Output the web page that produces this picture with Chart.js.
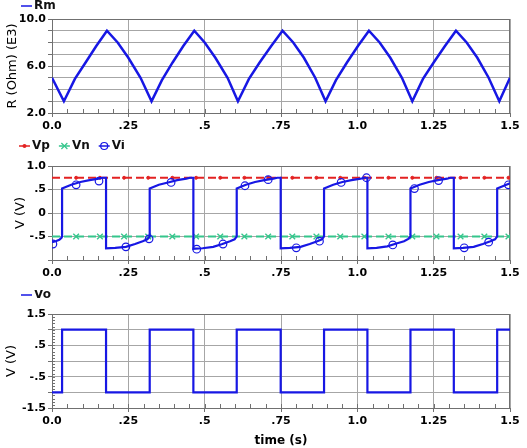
<!DOCTYPE html>
<html>
<head>
<meta charset="utf-8">
<script src="https://cdn.jsdelivr.net/npm/chart.js@4.4.1/dist/chart.umd.min.js"></script>
<style>
  html, body { margin: 0; padding: 0; background: #fff; }
  #wrap { position: relative; width: 527px; height: 448px; }
  canvas { position: absolute; left: 0; }
</style>
</head>
<body>
<div id="wrap">
  <canvas id="c1" width="527" height="140" style="top:0px"></canvas>
  <canvas id="c2" width="527" height="150" style="top:140px"></canvas>
  <canvas id="c3" width="527" height="158" style="top:290px"></canvas>
</div>
<script>
// ---- data (time in s) ----
const rmTime = [0, 0.039, 0.075, 0.11, 0.145, 0.18, 0.215, 0.25, 0.29, 0.326,
  0.36, 0.395, 0.43, 0.466, 0.5, 0.535, 0.575, 0.609,
  0.645, 0.68, 0.718, 0.755, 0.79, 0.825, 0.862, 0.896,
  0.93, 0.966, 1.002, 1.038, 1.073, 1.108, 1.146, 1.18,
  1.215, 1.25, 1.287, 1.323, 1.358, 1.393, 1.43, 1.465, 1.5];
const rmValue = [5.0, 3.0, 4.9, 6.3, 7.7, 9.0, 8.0, 6.7, 5.0, 3.0,
  4.8, 6.3, 7.7, 9.0, 8.0, 6.7, 5.0, 3.0,
  4.9, 6.3, 7.7, 9.0, 8.0, 6.7, 5.0, 3.0,
  4.8, 6.3, 7.7, 9.0, 8.0, 6.7, 5.0, 3.0,
  4.9, 6.3, 7.7, 9.0, 8.0, 6.7, 5.0, 3.0, 5.0];

const viTime = [0, 0.012, 0.024, 0.031, 0.033, 0.033,
  0.043, 0.063, 0.093, 0.123, 0.153, 0.165, 0.177, 0.177,
  0.207, 0.242, 0.272, 0.297, 0.312, 0.320, 0.320,
  0.330, 0.350, 0.380, 0.410, 0.440, 0.452, 0.463, 0.463,
  0.493, 0.528, 0.558, 0.583, 0.598, 0.605, 0.605,
  0.615, 0.635, 0.665, 0.695, 0.725, 0.738, 0.749, 0.749,
  0.779, 0.814, 0.844, 0.869, 0.884, 0.891, 0.891,
  0.901, 0.921, 0.951, 0.981, 1.011, 1.022, 1.033, 1.033,
  1.063, 1.098, 1.128, 1.153, 1.167, 1.174, 1.174,
  1.184, 1.204, 1.234, 1.264, 1.294, 1.305, 1.316, 1.316,
  1.346, 1.381, 1.411, 1.436, 1.451, 1.458, 1.458,
  1.468, 1.488, 1.5];
const viValue = [-0.62, -0.60, -0.57, -0.53, -0.50, 0.52,
  0.55, 0.60, 0.66, 0.70, 0.73, 0.75, 0.75, -0.75,
  -0.74, -0.72, -0.66, -0.60, -0.56, -0.50, 0.52,
  0.55, 0.60, 0.65, 0.70, 0.73, 0.75, 0.75, -0.76,
  -0.75, -0.72, -0.66, -0.60, -0.56, -0.50, 0.52,
  0.55, 0.60, 0.66, 0.70, 0.73, 0.75, 0.75, -0.75,
  -0.74, -0.72, -0.66, -0.60, -0.56, -0.50, 0.52,
  0.55, 0.60, 0.66, 0.70, 0.73, 0.75, 0.75, -0.75,
  -0.74, -0.71, -0.65, -0.60, -0.55, -0.50, 0.52,
  0.55, 0.60, 0.66, 0.70, 0.73, 0.75, 0.75, -0.75,
  -0.74, -0.72, -0.66, -0.60, -0.56, -0.50, 0.52,
  0.55, 0.60, 0.63];

const viMarkTime = [0.003, 0.079, 0.154, 0.242, 0.318, 0.39, 0.474, 0.56, 0.632, 0.708,
  0.80, 0.876, 0.947, 1.03, 1.116, 1.187, 1.266, 1.35, 1.43, 1.495];
const viMarkValue = [-0.66, 0.60, 0.68, -0.72, -0.55, 0.65, -0.77, -0.66, 0.58, 0.71,
  -0.74, -0.60, 0.65, 0.75, -0.68, 0.52, 0.69, -0.74, -0.62, 0.60];

const vpValue = 0.75;
const vnValue = -0.5;
const vMarkTime = [0.079, 0.157, 0.236, 0.315, 0.394, 0.472, 0.551, 0.630, 0.708, 0.787,
  0.866, 0.944, 1.023, 1.102, 1.180, 1.259, 1.338, 1.416, 1.495];

// Vo steps: time of each switch and the level after it
const voTime = [0, 0.033, 0.177, 0.320, 0.463, 0.605, 0.749, 0.891, 1.033, 1.174, 1.316, 1.458, 1.5];
const voValue = [-1, 1, -1, 1, -1, 1, -1, 1, -1, 1, -1, 1, 1];

const timeTicks = { min: 0, max: 1.5, step: 0.25 };

// ---- styles ----
const BLUE = '#1717e4';
const RED = '#e32222';
const GREEN = '#35c68c';
const GRID = '#a6a6a6';
const AXIS = '#707070';
const FONT = 'DejaVu Sans';
const tickFont = { family: FONT, size: 11, weight: 'bold' };

const pts = (xs, ys) => xs.map((x, i) => ({ x, y: ys[i] }));
const flat = (xs, v) => xs.map(x => ({ x, y: v }));

function fmtTime(v) {
  if (v === 0) return '0.0';
  if (v === 1) return '1.0';
  return v < 1 ? String(v).replace(/^0/, '') : String(v);
}
function fmtV(v) {
  if (Number.isInteger(v)) return v === 0 ? '0' : v.toFixed(1);
  return String(v).replace('0.', '.');
}

// frame (top/right border) + minor ticks
const framePlugin = {
  id: 'frame',
  beforeDatasetsDraw(chart, args, opts) {
    const { ctx, chartArea: a, scales: { x, y } } = chart;
    ctx.save();
    ctx.strokeStyle = AXIS;
    ctx.lineWidth = 1;
    ctx.beginPath();
    ctx.moveTo(a.left, a.top + 0.5); ctx.lineTo(a.right, a.top + 0.5);
    ctx.moveTo(a.right - 0.5, a.top); ctx.lineTo(a.right - 0.5, a.bottom);
    if (opts.xMinor) {
      for (let v = opts.xMinor; v < x.max; v += opts.xMinor) {
        const px = Math.round(x.getPixelForValue(v)) + 0.5;
        ctx.moveTo(px, a.bottom); ctx.lineTo(px, a.bottom - 4);
      }
    }
    if (opts.yMinor) {
      for (let v = y.min + opts.yMinor; v < y.max; v += opts.yMinor) {
        const py = Math.round(y.getPixelForValue(v)) + 0.5;
        ctx.moveTo(a.left, py); ctx.lineTo(a.left + 3, py);
      }
    }
    ctx.stroke();
    ctx.restore();
  }
};

// legend drawn like the original: short line, marker, bold name
const keyPlugin = {
  id: 'key',
  afterDraw(chart, args, opts) {
    const ctx = chart.ctx;
    let x = opts.x;
    const y = opts.y;
    ctx.save();
    ctx.font = 'bold 12px "' + FONT + '"';
    ctx.textBaseline = 'middle';
    opts.items.forEach(it => {
      ctx.strokeStyle = it.color;
      ctx.fillStyle = it.color;
      ctx.lineWidth = 1.5;
      ctx.beginPath();
      ctx.moveTo(x, y); ctx.lineTo(x + 11, y);
      ctx.stroke();
      const cx = x + 5.5;
      ctx.lineWidth = 1.2;
      if (it.marker === 'dot') {
        ctx.beginPath(); ctx.arc(cx, y, 2, 0, Math.PI * 2); ctx.fill();
      } else if (it.marker === 'cross') {
        ctx.beginPath();
        ctx.moveTo(cx - 3, y - 3); ctx.lineTo(cx + 3, y + 3);
        ctx.moveTo(cx - 3, y + 3); ctx.lineTo(cx + 3, y - 3);
        ctx.stroke();
      } else if (it.marker === 'circle') {
        ctx.beginPath(); ctx.arc(cx, y, 3.5, 0, Math.PI * 2); ctx.stroke();
      }
      ctx.fillStyle = '#111';
      ctx.fillText(it.text, x + 13, y);
      x += 13 + ctx.measureText(it.text).width + 9;
    });
    ctx.restore();
  }
};

function xAxis(height, title) {
  return {
    type: 'linear', min: timeTicks.min, max: timeTicks.max,
    ticks: { stepSize: timeTicks.step, callback: fmtTime, font: tickFont, color: '#000', padding: 3, maxRotation: 0, autoSkip: false },
    grid: { color: GRID, tickColor: AXIS, tickLength: 4 },
    border: { color: AXIS },
    title: title ? { display: true, text: title, font: { family: FONT, size: 12, weight: 'bold' }, color: '#000', padding: 0 } : { display: false },
    afterFit(s) { s.height = height; s.paddingLeft = 0; s.paddingRight = 0; }
  };
}

function yAxis(min, max, step, labelFn, title, titlePad) {
  return {
    min, max,
    ticks: { stepSize: step, callback: labelFn, font: tickFont, color: '#000', padding: 2, autoSkip: false },
    grid: { color: GRID, tickColor: AXIS, tickLength: 4 },
    border: { color: AXIS },
    title: { display: true, text: title, font: { family: FONT, size: 13 }, color: '#000', padding: { top: titlePad, bottom: 0 } },
    afterFit(s) { s.width = 52; s.paddingTop = 0; s.paddingBottom = 0; }
  };
}

function baseOptions(padTop, xa, ya, frame, key) {
  return {
    responsive: false,
    animation: false,
    devicePixelRatio: 1,
    layout: { padding: { top: padTop, right: 17, bottom: 0, left: 0 } },
    plugins: { legend: { display: false }, tooltip: { enabled: false }, frame, key },
    scales: { x: xa, y: ya }
  };
}

Chart.register(framePlugin, keyPlugin);

// ---- Rm ----
new Chart(document.getElementById('c1'), {
  type: 'scatter',
  data: {
    datasets: [{
      label: 'Rm', data: pts(rmTime, rmValue), showLine: true,
      borderColor: BLUE, borderWidth: 2.5, pointRadius: 0, tension: 0
    }]
  },
  options: baseOptions(19,
    xAxis(27),
    yAxis(2, 10, 1, v => (v % 4 === 2 ? v.toFixed(1) : ''), 'R (Ohm) (E3)', 5),
    { xMinor: 0.05 },
    { x: 21, y: 6, items: [{ text: 'Rm', color: BLUE }] })
});

// ---- Vp, Vn, Vi ----
new Chart(document.getElementById('c2'), {
  type: 'scatter',
  data: {
    datasets: [
      { label: 'Vi', data: pts(viTime, viValue), showLine: true, borderColor: BLUE, borderWidth: 2.2, pointRadius: 0, order: 1 },
      { label: 'Vi marks', data: pts(viMarkTime, viMarkValue), pointStyle: 'circle', pointRadius: 3.8,
        borderColor: BLUE, backgroundColor: 'rgba(0,0,0,0)', pointBorderWidth: 1.2, order: 0 },
      { label: 'Vp', data: flat([timeTicks.min, timeTicks.max], vpValue), showLine: true, borderColor: RED, borderWidth: 2, borderDash: [8, 4], pointRadius: 0, order: 3 },
      { label: 'Vp marks', data: flat(vMarkTime, vpValue), pointRadius: 1.5, backgroundColor: RED, borderColor: RED, order: 3 },
      { label: 'Vn', data: flat([timeTicks.min, timeTicks.max], vnValue), showLine: true, borderColor: GREEN, borderWidth: 2, borderDash: [8, 4], pointRadius: 0, order: 2 },
      { label: 'Vn marks', data: flat(vMarkTime, vnValue), pointStyle: 'crossRot', pointRadius: 4, borderColor: GREEN, pointBorderWidth: 1.3, order: 2 }
    ]
  },
  options: baseOptions(26,
    xAxis(30),
    yAxis(-1, 1, 0.5, v => (v === -1 ? '' : fmtV(v)), 'V (V)', 13),
    { xMinor: 0.05 },
    { x: 19, y: 6, items: [
      { text: 'Vp', color: RED, marker: 'dot' },
      { text: 'Vn', color: GREEN, marker: 'cross' },
      { text: 'Vi', color: BLUE, marker: 'circle' }
    ] })
});

// ---- Vo ----
new Chart(document.getElementById('c3'), {
  type: 'scatter',
  data: {
    datasets: [{
      label: 'Vo', data: pts(voTime, voValue), showLine: true, stepped: true,
      borderColor: BLUE, borderWidth: 2.2, pointRadius: 0
    }]
  },
  options: baseOptions(24,
    xAxis(40, 'time (s)'),
    yAxis(-1.5, 1.5, 0.5, v => (Math.abs(v) === 1.5 || Math.abs(v) === 0.5 ? fmtV(v) : ''), 'V (V)', 4),
    { xMinor: 0.05, yMinor: 0.1 },
    { x: 21, y: 5, items: [{ text: 'Vo', color: BLUE }] })
});
</script>
</body>
</html>
